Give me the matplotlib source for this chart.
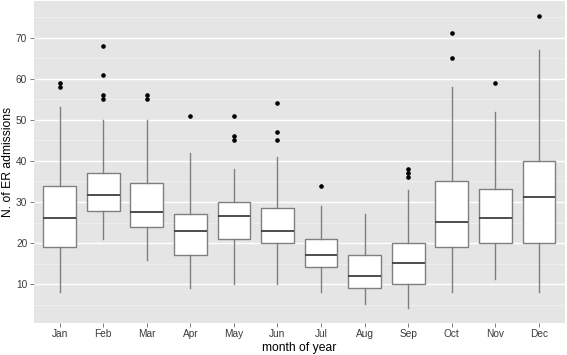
import matplotlib
matplotlib.use("Agg")
import matplotlib.pyplot as plt
from matplotlib.ticker import MultipleLocator

months = ["Jan", "Feb", "Mar", "Apr", "May", "Jun", "Jul", "Aug", "Sep", "Oct", "Nov", "Dec"]
whisker_low = [8, 21, 16, 9, 10, 10, 8, 5.2, 4.2, 8, 11.2, 8]
q1 = [19, 27.7, 24, 17, 21, 20, 14.1, 9.1, 10, 19, 20, 20]
median = [26.1, 31.6, 27.6, 23, 26.5, 23, 17.1, 12, 15.1, 25.2, 26.1, 31.2]
q3 = [33.8, 37, 34.7, 27, 30, 28.5, 21, 17, 20, 35.1, 33.1, 40]
whisker_high = [53, 50, 50, 42, 38, 41, 29, 27, 33, 58, 52, 67]
outliers = [
    [58, 59],
    [55, 56, 61, 68],
    [55, 56],
    [51],
    [45, 46, 51],
    [45, 47, 54],
    [34],
    [],
    [36.1, 37.1, 38.1],
    [65, 71],
    [59],
    [75.2],
]

plt.rcParams["font.family"] = ["Liberation Sans", "DejaVu Sans"]

fig = plt.figure(figsize=(5.67, 3.55), dpi=100)
ax = fig.add_axes([33.5 / 567, 32.3 / 355, (565 - 33.5) / 567, (354 - 32.3) / 355])
ax.set_facecolor("#E5E5E5")

stats = []
for i, m in enumerate(months):
    stats.append(dict(label=m, whislo=whisker_low[i], q1=q1[i], med=median[i],
                      q3=q3[i], whishi=whisker_high[i], fliers=outliers[i]))

positions = list(range(1, len(months) + 1))
ax.bxp(stats, positions=positions, widths=0.75, patch_artist=True, showcaps=False,
       boxprops=dict(facecolor="white", edgecolor="#7F7F7F", linewidth=1.0),
       medianprops=dict(color="#3F3F3F", linewidth=1.3),
       whiskerprops=dict(color="#7F7F7F", linewidth=1.0),
       flierprops=dict(marker="o", markerfacecolor="black", markeredgecolor="black",
                       markersize=2.3, linestyle="none"),
       zorder=3)

ax.set_xlim(0.4, 12.6)
ax.set_ylim(0.65, 78.9)
ax.yaxis.set_minor_locator(MultipleLocator(5))
ax.set_yticks([10, 20, 30, 40, 50, 60, 70])
ax.set_xticks(positions)
ax.set_xticklabels(months)
ax.grid(which="major", axis="y", color="white", linewidth=1.0, zorder=0)
ax.grid(which="minor", axis="y", color="#F0F0F0", linewidth=0.6, zorder=0)
ax.set_axisbelow(True)
for s in ax.spines.values():
    s.set_visible(False)
ax.tick_params(axis="both", which="major", length=3, width=0.6, color="#666666",
               labelcolor="#3A3A3A", labelsize=7.3, pad=1.5)
ax.tick_params(axis="y", which="minor", length=0)
ax.set_xlabel("month of year", fontsize=8.7, color="black", labelpad=2)
ax.set_ylabel("N. of ER admissions", fontsize=8.7, color="black", labelpad=1.5)

fig.savefig("out.png", dpi=100)
